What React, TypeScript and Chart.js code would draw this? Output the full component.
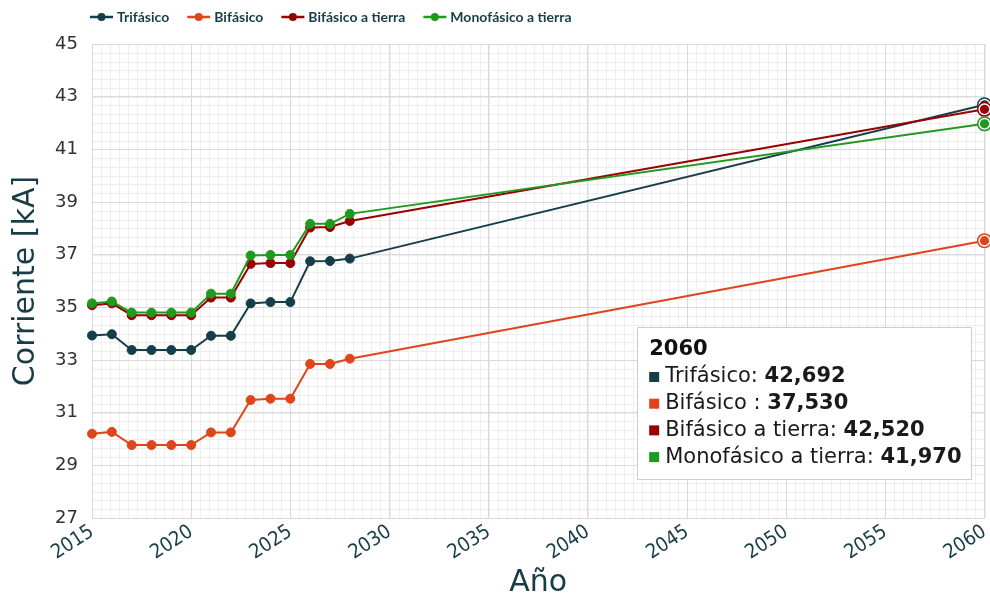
import React, { useEffect, useRef } from 'react';
import { Chart, registerables } from 'chart.js';

Chart.register(...registerables);

const years = [2015, 2016, 2017, 2018, 2019, 2020, 2021, 2022, 2023, 2024, 2025, 2026, 2027, 2028, 2060];
const trifasico = [33.93, 33.98, 33.38, 33.38, 33.38, 33.38, 33.92, 33.92, 35.15, 35.2, 35.2, 36.75, 36.76, 36.85, 42.692];
const bifasico = [30.2, 30.27, 29.77, 29.77, 29.77, 29.77, 30.25, 30.25, 31.48, 31.53, 31.53, 32.85, 32.85, 33.05, 37.53];
const bifasicoTierra = [35.08, 35.15, 34.7, 34.7, 34.7, 34.7, 35.37, 35.37, 36.65, 36.68, 36.68, 38.03, 38.05, 38.28, 42.52];
const monofasicoTierra = [35.15, 35.22, 34.8, 34.8, 34.8, 34.8, 35.52, 35.52, 36.97, 36.99, 36.99, 38.17, 38.17, 38.55, 41.97];

const seriesNames = ['Trifásico', 'Bifásico', 'Bifásico a tierra', 'Monofásico a tierra'];
const tooltipNames = ['Trifásico', 'Bifásico ', 'Bifásico a tierra', 'Monofásico a tierra'];
const seriesColors = ['#163e48', '#e0441b', '#990000', '#1f9a1f'];

const xTickValues = [2015, 2020, 2025, 2030, 2035, 2040, 2045, 2050, 2055, 2060];
const yTickValues = [27, 29, 31, 33, 35, 37, 39, 41, 43, 45];
const xMinorStep = 5 / 11;
const yMinorStep = 1 / 3;
const highlightYear = 2060;
const xTitle = 'Año';
const yTitle = 'Corriente [kA]';

const FONT = "'DejaVu Sans', sans-serif";
const XTICK_FONT = "'DejaVu Sans Condensed', 'DejaVu Sans', sans-serif";
const LEGEND_FONT = "Lato, 'DejaVu Sans', sans-serif";
const TEAL = '#173d47';

export default function App() {
  const ref = useRef<HTMLCanvasElement | null>(null);

  useEffect(() => {
    document.body.style.margin = '0';
    const canvas = ref.current;
    if (!canvas) return;
    const seriesValues = [trifasico, bifasico, bifasicoTierra, monofasicoTierra];

    const datasets = seriesValues.map((vals, i) => ({
      label: seriesNames[i],
      data: years.map((x, j) => ({ x, y: vals[j] })),
      borderColor: seriesColors[i],
      backgroundColor: seriesColors[i],
      borderWidth: 2,
      pointRadius: 4.5,
      pointBorderWidth: 1,
      pointHoverRadius: 4.5,
      order: seriesNames.length - i,
      clip: false as any,
      tension: 0,
    }));

    const minorGrid = {
      id: 'minorGrid',
      beforeDraw(chart: any) {
        const { ctx, chartArea, scales } = chart;
        const { left, right, top, bottom } = chartArea;
        const xs = scales.x;
        const ys = scales.y;
        ctx.save();
        ctx.strokeStyle = '#eeeeee';
        ctx.lineWidth = 1;
        ctx.beginPath();
        for (let v = xs.min; v <= xs.max + 1e-9; v += xMinorStep) {
          const px = Math.round(xs.getPixelForValue(v)) + 0.5;
          ctx.moveTo(px, top);
          ctx.lineTo(px, bottom);
        }
        for (let v = ys.min; v <= ys.max + 1e-9; v += yMinorStep) {
          const py = Math.round(ys.getPixelForValue(v)) + 0.5;
          ctx.moveTo(left, py);
          ctx.lineTo(right, py);
        }
        ctx.stroke();
        ctx.restore();
      },
    };

    const halo = {
      id: 'halo',
      afterDatasetsDraw(chart: any) {
        const { ctx, scales } = chart;
        const idx = years.indexOf(highlightYear);
        ctx.save();
        seriesValues.forEach((vals, i) => {
          const px = scales.x.getPixelForValue(years[idx]);
          const py = scales.y.getPixelForValue(vals[idx]);
          ctx.beginPath();
          ctx.arc(px, py, 6.8, 0, Math.PI * 2);
          ctx.fillStyle = '#ffffff';
          ctx.fill();
          ctx.lineWidth = 1.5;
          ctx.strokeStyle = seriesColors[i];
          ctx.stroke();
          ctx.beginPath();
          ctx.arc(px, py, 4.6, 0, Math.PI * 2);
          ctx.fillStyle = seriesColors[i];
          ctx.fill();
        });
        ctx.restore();
      },
    };

    const legendPlugin = {
      id: 'customLegend',
      afterDraw(chart: any) {
        const { ctx } = chart;
        ctx.save();
        ctx.font = `bold 14px ${LEGEND_FONT}`;
        ctx.textBaseline = 'middle';
        ctx.textAlign = 'left';
        let x = 90;
        const y = 17;
        seriesNames.forEach((name, i) => {
          ctx.strokeStyle = seriesColors[i];
          ctx.lineWidth = 2.5;
          ctx.beginPath();
          ctx.moveTo(x, y);
          ctx.lineTo(x + 23, y);
          ctx.stroke();
          ctx.beginPath();
          ctx.arc(x + 11.5, y, 4, 0, Math.PI * 2);
          ctx.fillStyle = seriesColors[i];
          ctx.fill();
          ctx.fillStyle = TEAL;
          ctx.fillText(name, x + 27, y);
          x += 27 + ctx.measureText(name).width + 18;
        });
        ctx.restore();
      },
    };

    const tooltipPlugin = {
      id: 'staticTooltip',
      afterDraw(chart: any) {
        const { ctx, chartArea } = chart;
        const idx = years.indexOf(highlightYear);
        const normal = `21px ${FONT}`;
        const bold = `bold 21px ${FONT}`;
        ctx.save();
        const lines = seriesValues.map((vals, i) => {
          const a = tooltipNames[i] + ': ';
          const b = vals[idx].toFixed(3).replace('.', ',');
          ctx.font = normal;
          const wa = ctx.measureText(a).width;
          ctx.font = bold;
          const wb = ctx.measureText(b).width;
          return { a, b, wa, wb };
        });
        const maxW = Math.max(...lines.map((l) => l.wa + l.wb));
        const w = 12 + 16 + maxW + 10;
        const h = 152;
        const right = chartArea.right - 13;
        const left = right - w;
        const top = chartArea.top + 283;
        ctx.fillStyle = '#ffffff';
        ctx.strokeStyle = '#cccccc';
        ctx.lineWidth = 1;
        ctx.beginPath();
        ctx.rect(Math.round(left) + 0.5, Math.round(top) + 0.5, Math.round(w), h);
        ctx.fill();
        ctx.stroke();
        ctx.textBaseline = 'middle';
        ctx.textAlign = 'left';
        ctx.fillStyle = '#111111';
        ctx.font = bold;
        ctx.fillText(String(years[idx]), left + 12, top + 23);
        lines.forEach((l, i) => {
          const cy = top + 50 + i * 26.7;
          ctx.fillStyle = seriesColors[i];
          ctx.fillRect(left + 12, cy - 5, 10, 10);
          ctx.fillStyle = '#1a1a1a';
          ctx.font = normal;
          ctx.fillText(l.a, left + 28, cy);
          ctx.font = bold;
          ctx.fillText(l.b, left + 28 + l.wa, cy);
        });
        ctx.restore();
      },
    };

    const chart = new Chart(canvas, {
      type: 'line',
      data: { datasets: datasets as any },
      plugins: [minorGrid, halo, legendPlugin, tooltipPlugin],
      options: {
        animation: false,
        responsive: true,
        maintainAspectRatio: false,
        events: [],
        layout: { padding: { top: 44, right: 4, left: 0, bottom: 0 } },
        plugins: {
          legend: { display: false },
          tooltip: { enabled: false },
        },
        scales: {
          x: {
            type: 'linear',
            min: xTickValues[0],
            max: xTickValues[xTickValues.length - 1],
            afterBuildTicks: (s: any) => {
              s.ticks = xTickValues.map((v) => ({ value: v }));
            },
            afterFit: (s: any) => {
              s.height = 84;
              s.paddingRight = 0;
            },
            ticks: {
              autoSkip: false,
              maxRotation: 33,
              minRotation: 33,
              padding: 2,
              color: TEAL,
              font: { family: XTICK_FONT, size: 20 },
              callback: (v: any) => String(v),
            },
            grid: { color: '#d9d9d9', drawTicks: false },
            border: { display: false },
            title: {
              display: true,
              text: xTitle,
              color: TEAL,
              font: { family: FONT, size: 30 },
              padding: { top: 0, bottom: 1 },
            },
          },
          y: {
            type: 'linear',
            min: yTickValues[0],
            max: yTickValues[yTickValues.length - 1],
            afterBuildTicks: (s: any) => {
              s.ticks = yTickValues.map((v) => ({ value: v }));
            },
            afterFit: (s: any) => {
              s.width = 92;
            },
            ticks: {
              padding: 14,
              color: '#333333',
              font: { family: FONT, size: 18 },
              callback: (v: any) => String(v),
            },
            grid: { color: '#d9d9d9', drawTicks: false },
            border: { display: false },
            title: {
              display: true,
              text: yTitle,
              color: TEAL,
              font: { family: FONT, size: 30 },
              padding: { top: 8, bottom: 0 },
            },
          },
        },
      },
    });
    return () => chart.destroy();
  }, []);

  return (
    <div style={{ width: 990, height: 602, position: 'relative' }}>
      <canvas ref={ref} />
    </div>
  );
}
